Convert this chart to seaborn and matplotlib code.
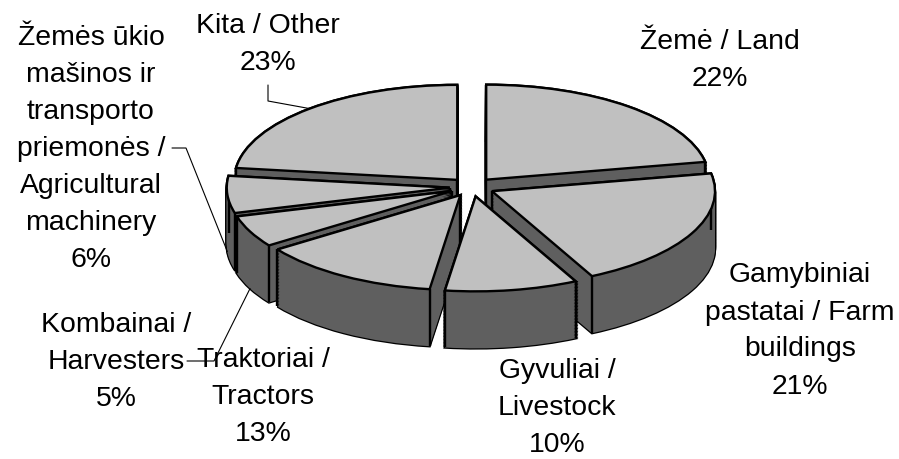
import numpy as np
import seaborn as sns
import matplotlib.pyplot as plt

# shares in pie order, clockwise from 12 o'clock
labels = ['Žemė / Land\n22%',
          'Gamybiniai\npastatai / Farm\nbuildings\n21%',
          'Gyvuliai /\nLivestock\n10%',
          'Traktoriai /\nTractors\n13%',
          'Kombainai /\nHarvesters\n5%',
          'Žemės ūkio\nmašinos ir\ntransporto\npriemonės /\nAgricultural\nmachinery\n6%',
          'Kita / Other\n23%']
shares = [22, 20.6, 9.6, 13.1, 5.4, 6.3, 23]
explode = [0.1] * 7
# back to front painting order of the slices
paint_rank = [1, 3, 6, 5, 4, 2, 0]

label_xy = [(720, 61), (800, 331), (557, 408), (263, 397), (116, 362), (91, 149), (268, 45)]

W, H = 899, 459
cx, cy = 472, 187
rx, ry = 223, 95
depth = 0.6
layers = 40
top_col = '#c0c0c0'
side_col = '#5f5f5f'

sns.set_theme(style='white')
plt.rcParams['font.family'] = ['Liberation Sans', 'DejaVu Sans']

fig = plt.figure(figsize=(W / 100, H / 100), dpi=100)
ax = fig.add_axes([0, 0, 1, 1])


def px(x, y):
    return (x - cx) / rx, (cy - y) / ry


def draw_pie(y0, face, edge, lw, z):
    wedges, _ = ax.pie(shares, explode=explode, startangle=90, counterclock=False,
                       center=(0, y0), colors=[face] * len(shares),
                       wedgeprops=dict(edgecolor=edge, linewidth=lw))
    for w, r in zip(wedges, paint_rank):
        w.set_zorder(r + z)
    return wedges


# extrusion: black silhouette first, dark fill over it, then the top face
offsets = np.linspace(-depth, 0, layers)
for y0 in offsets:
    draw_pie(y0, 'black', 'black', 1.8, 0.1)
for y0 in offsets:
    draw_pie(y0, side_col, 'none', 0, 0.2)
top = draw_pie(0, top_col, 'black', 1.7, 0.4)

# vertical edges at the slice corners
for w, r in zip(top, paint_rank):
    x0, y0 = w.center
    xs = [x0, x0 + np.cos(np.radians(w.theta1)), x0 + np.cos(np.radians(w.theta2))]
    ys = [y0, y0 + np.sin(np.radians(w.theta1)), y0 + np.sin(np.radians(w.theta2))]
    for xc, yc in zip(xs, ys):
        ax.plot([xc, xc], [yc, yc - depth], color='black', lw=1.7, zorder=r + 0.3,
                solid_capstyle='butt')

for txt, (lx, ly) in zip(labels, label_xy):
    tx, ty = px(lx, ly)
    ax.text(tx, ty, txt, ha='center', va='center', fontsize=20.4, color='black',
            linespacing=1.55, zorder=20)


def rim(w, drop=0.0):
    t = np.radians((w.theta1 + w.theta2) / 2)
    return w.center[0] + np.cos(t), w.center[1] + np.sin(t) - drop


# leader lines: label side elbow points in pixels, tip on the slice rim
leaders = [(top[6], 0.0, [(268, 85), (268, 101)]),
           (top[5], depth, [(172, 148), (186, 148)]),
           (top[4], depth, [(187, 361), (214, 361)])]
for w, drop, pts in leaders:
    pp = [px(*p) for p in pts] + [rim(w, drop)]
    ax.plot([p[0] for p in pp], [p[1] for p in pp], color='black', lw=0.8, zorder=21)

ax.set_aspect('auto')
ax.set_xlim(-cx / rx, (W - cx) / rx)
ax.set_ylim((cy - H) / ry, cy / ry)
ax.axis('off')

fig.savefig('out.png', dpi=100, facecolor='white')
